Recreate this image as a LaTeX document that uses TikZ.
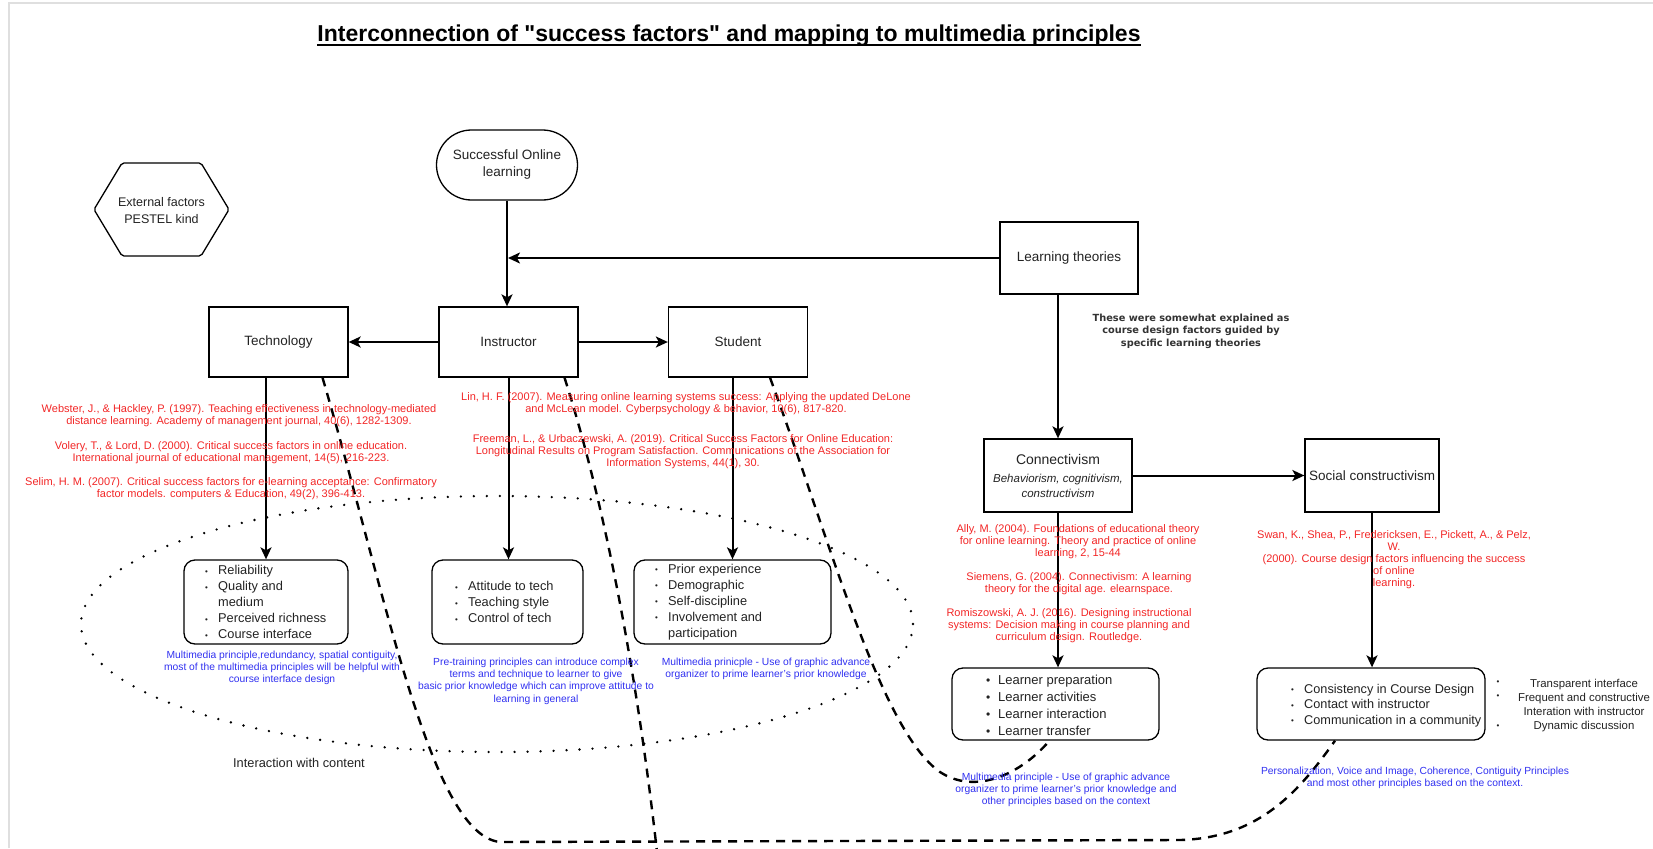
\documentclass[tikz,border=0pt]{standalone}
\usepackage{fontspec}
\setmainfont{Liberation Sans}
\newfontfamily\dejab{DejaVu Sans}
\usetikzlibrary{arrows.meta}
\definecolor{refred}{RGB}{242,38,38}
\definecolor{refblue}{RGB}{48,48,240}
\definecolor{txt}{RGB}{34,34,34}
\newcommand\fs[2]{\fontsize{#1}{#2}\selectfont}
\newcommand\sq{\XeTeXglyph\XeTeXcharglyph"22\relax}
\newcommand\bul{\makebox[13pt][l]{\raisebox{0.5pt}{\fs{8}{8}•}}}
\newcommand\bigbul{\makebox[12pt][l]{\fs{12}{12}•}}
\newcommand\ind{\hspace*{13pt}}
\begin{document}
\begin{tikzpicture}[x=1pt,y=-1pt,
  every node/.style={inner sep=0pt, text=txt},
  box/.style={draw=black, line width=1.3pt, minimum width=139pt, minimum height=70pt, font=\fs{13.5}{16}, align=center},
  lbox/.style={draw=black, line width=1.3pt, rounded corners=11pt},
  conn/.style={line width=2pt, -{Stealth[length=12pt,width=11pt,inset=3pt]}},
  dconn/.style={line width=2.4pt, dash pattern=on 9pt off 7pt},
  redtxt/.style={text=refred, align=center, font=\fs{11}{12}},
  bluetxt/.style={text=refblue, align=center, font=\fs{10.3}{12.3}},
  listtxt/.style={anchor=west, align=left, font=\fs{12.8}{16}},
]
\useasboundingbox (0,0) rectangle (1653,848);
\draw[gray!25, line width=1.5pt] (9,848) -- (9,3) -- (1653,3);

% title
\node[font=\fs{23}{27}\bfseries, text=black, anchor=base] (title) at (729,42) {Interconnection of \sq success factors\sq\ and mapping to multimedia principles};
\draw[line width=1.6pt] ([yshift=-3pt]title.base west) -- ([yshift=-3pt]title.base east);

% top nodes
\node[box, rounded corners=35pt, minimum width=141pt, minimum height=70pt, font=\fs{13.5}{17}] (success) at (507,165) {Successful Online\\learning};
\draw[line width=1.3pt, rounded corners=2pt] (94,209.5) -- (122,163) -- (201,163) -- (229,209.5) -- (201,256) -- (122,256) -- cycle;
\node[font=\fs{12.5}{17}, align=center] (ext) at (161.5,211) {External factors\\PESTEL kind};

\node[box, minimum width=138pt, minimum height=72pt] (lt) at (1069,258) {Learning theories};
\node[box] (tech) at (278.5,342) {Technology};
\node[box] (instr) at (508.5,342) {Instructor};
\node[box] (stud) at (738,342) {Student};
\coordinate (j) at (508,258);

\node[box, minimum width=148pt, minimum height=73pt, font=\fs{11.5}{15}\itshape] (cv) at (1058,475.5) {{\fs{14}{17}\upshape Connectivism}\\[3pt]Behaviorism, cognitivism,\\constructivism};
\node[box, minimum width=134pt, minimum height=73pt] (sc) at (1372,475.5) {Social constructivism};

% list boxes
\node[lbox, minimum width=164pt, minimum height=84pt] (l1) at (266,602) {};
\node[lbox, minimum width=151pt, minimum height=84pt] (l2) at (507.5,602) {};
\node[lbox, minimum width=197pt, minimum height=84pt] (l3) at (732.5,602) {};
\node[lbox, minimum width=207pt, minimum height=72pt] (ll) at (1055.5,704) {};
\node[lbox, minimum width=228pt, minimum height=72pt] (sl) at (1371,704) {};

\node[listtxt] (l1t) at (205,602) {\bul Reliability\\\bul Quality and\\\ind medium\\\bul Perceived richness\\\bul Course interface};
\node[listtxt] (l2t) at (455,602) {\bul Attitude to tech\\\bul Teaching style\\\bul Control of tech};
\node[listtxt] (l3t) at (655,602) {\bul Prior experience\\\bul Demographic\\\bul Self-discipline\\\bul Involvement and\\\ind participation};
\node[listtxt, font=\fs{13}{17}] (llt) at (986,705.5) {\bigbul Learner preparation\\\bigbul Learner activities\\\bigbul Learner interaction\\\bigbul Learner transfer};
\node[listtxt, font=\fs{12.7}{15.5}] (slt) at (1291,705.5) {\bul Consistency in Course Design\\\bul Contact with instructor\\\bul Communication in a community};

\node[font=\fs{11.4}{14.3}, align=center] (extra) at (1584,705.5) {Transparent interface\\Frequent and constructive\\Interation with instructor\\Dynamic discussion};
\node[font=\fs{8}{8}] (eb1) at (1498,683) {•};
\node[font=\fs{8}{8}] (eb2) at (1498,697) {•};
\node[font=\fs{8}{8}] (eb3) at (1498,727) {•};

% connectors
\draw[conn] (success.south) -- (success.south |- instr.north);
\draw[conn] (lt.west) -- (j);
\draw[conn] (instr.west) -- (tech.east);
\draw[conn] (instr.east) -- (stud.west);
\draw[conn] (l1.north |- tech.south) -- (l1.north);
\draw[conn] (instr.south) -- (instr.south |- l2.north);
\draw[conn] (l3.north |- stud.south) -- (l3.north);
\draw[conn] (lt.south -| cv.north) -- (cv.north);
\draw[conn] (cv.east) -- (sc.west);
\draw[conn] (cv.south) -- (cv.south |- ll.north);
\draw[conn] (sc.south) -- (sc.south |- sl.north);

% dotted ellipse
\draw[line width=2.6pt, dash pattern=on 0pt off 13pt, line cap=round] (497,624) ellipse [x radius=416pt, y radius=128pt];
\node[font=\fs{12.8}{15}] (ic) at (299,763) {Interaction with content};

% dashed curves
\coordinate (bend) at (657,852);
\draw[dconn] ([xshift=44pt]tech.south) .. controls (385,590) and (430,835) .. (500,842) -- (1180,840) .. controls (1260,838) and (1300,790) .. ([xshift=-36pt]sl.south);
\draw[dconn] ([xshift=56pt]instr.south) .. controls (610,520) and (640,700) .. (bend);
\draw[dconn] ([xshift=32pt]stud.south) .. controls (830,540) and (880,730) .. (940,772) .. controls (975,795) and (1020,775) .. ([xshift=-6pt]ll.south);

% red references
\node[redtxt] (web) at (239,415.5) {Webster, J., \& Hackley, P. (1997). Teaching effectiveness in technology-mediated\\distance learning. Academy of management journal, 40(6), 1282-1309.};
\node[redtxt] (vol) at (231,452.5) {Volery, T., \& Lord, D. (2000). Critical success factors in online education.\\International journal of educational management, 14(5), 216-223.};
\node[redtxt] (sel) at (231,488.5) {Selim, H. M. (2007). Critical success factors for e-learning acceptance: Confirmatory\\factor models. computers \& Education, 49(2), 396-413.};
\node[redtxt] (lin) at (686,403.5) {Lin, H. F. (2007). Measuring online learning systems success: Applying the updated DeLone\\and McLean model. Cyberpsychology \& behavior, 10(6), 817-820.};
\node[redtxt] (fre) at (683,452) {Freeman, L., \& Urbaczewski, A. (2019). Critical Success Factors for Online Education:\\Longitudinal Results on Program Satisfaction. Communications of the Association for\\Information Systems, 44(1), 30.};
\node[redtxt] (ally) at (1078,542) {Ally, M. (2004). Foundations of educational theory\\for online learning. Theory and practice of online\\learning, 2, 15-44};
\node[redtxt] (sie) at (1079,584) {Siemens, G. (2004). Connectivism: A learning\\theory for the digital age. elearnspace.};
\node[redtxt] (rom) at (1069,626) {Romiszowski, A. J. (2016). Designing instructional\\systems: Decision making in course planning and\\curriculum design. Routledge.};
\node[redtxt] (swan) at (1394,560) {Swan, K., Shea, P., Fredericksen, E., Pickett, A., \& Pelz,\\W.\\(2000). Course design factors influencing the success\\of online\\learning.};

% blue notes
\node[bluetxt] (bl1) at (282,668) {Multimedia principle,redundancy, spatial contiguity,\\most of the multimedia principles will be helpful with\\course interface design};
\node[bluetxt] (bl2) at (536,681) {Pre-training principles can introduce complex\\terms and technique to learner to give\\basic prior knowledge which can improve attitude to\\learning in general};
\node[bluetxt] (bl3) at (766,668.5) {Multimedia prinicple - Use of graphic advance\\organizer to prime learner's prior knowledge};
\node[bluetxt] (bl4) at (1066,790) {Multimedia principle - Use of graphic advance\\organizer to prime learner's prior knowledge and\\other principles based on the context};
\node[bluetxt] (bl5) at (1415,777.5) {Personalization, Voice and Image, Coherence, Contiguity Principles\\and most other principles based on the context.};

% note
\node[font=\fs{9.8}{12.5}\dejab\bfseries, text=black!80, align=center] (note) at (1191,331) {These were somewhat explained as\\course design factors guided by\\specific learning theories};
\end{tikzpicture}
\end{document}
